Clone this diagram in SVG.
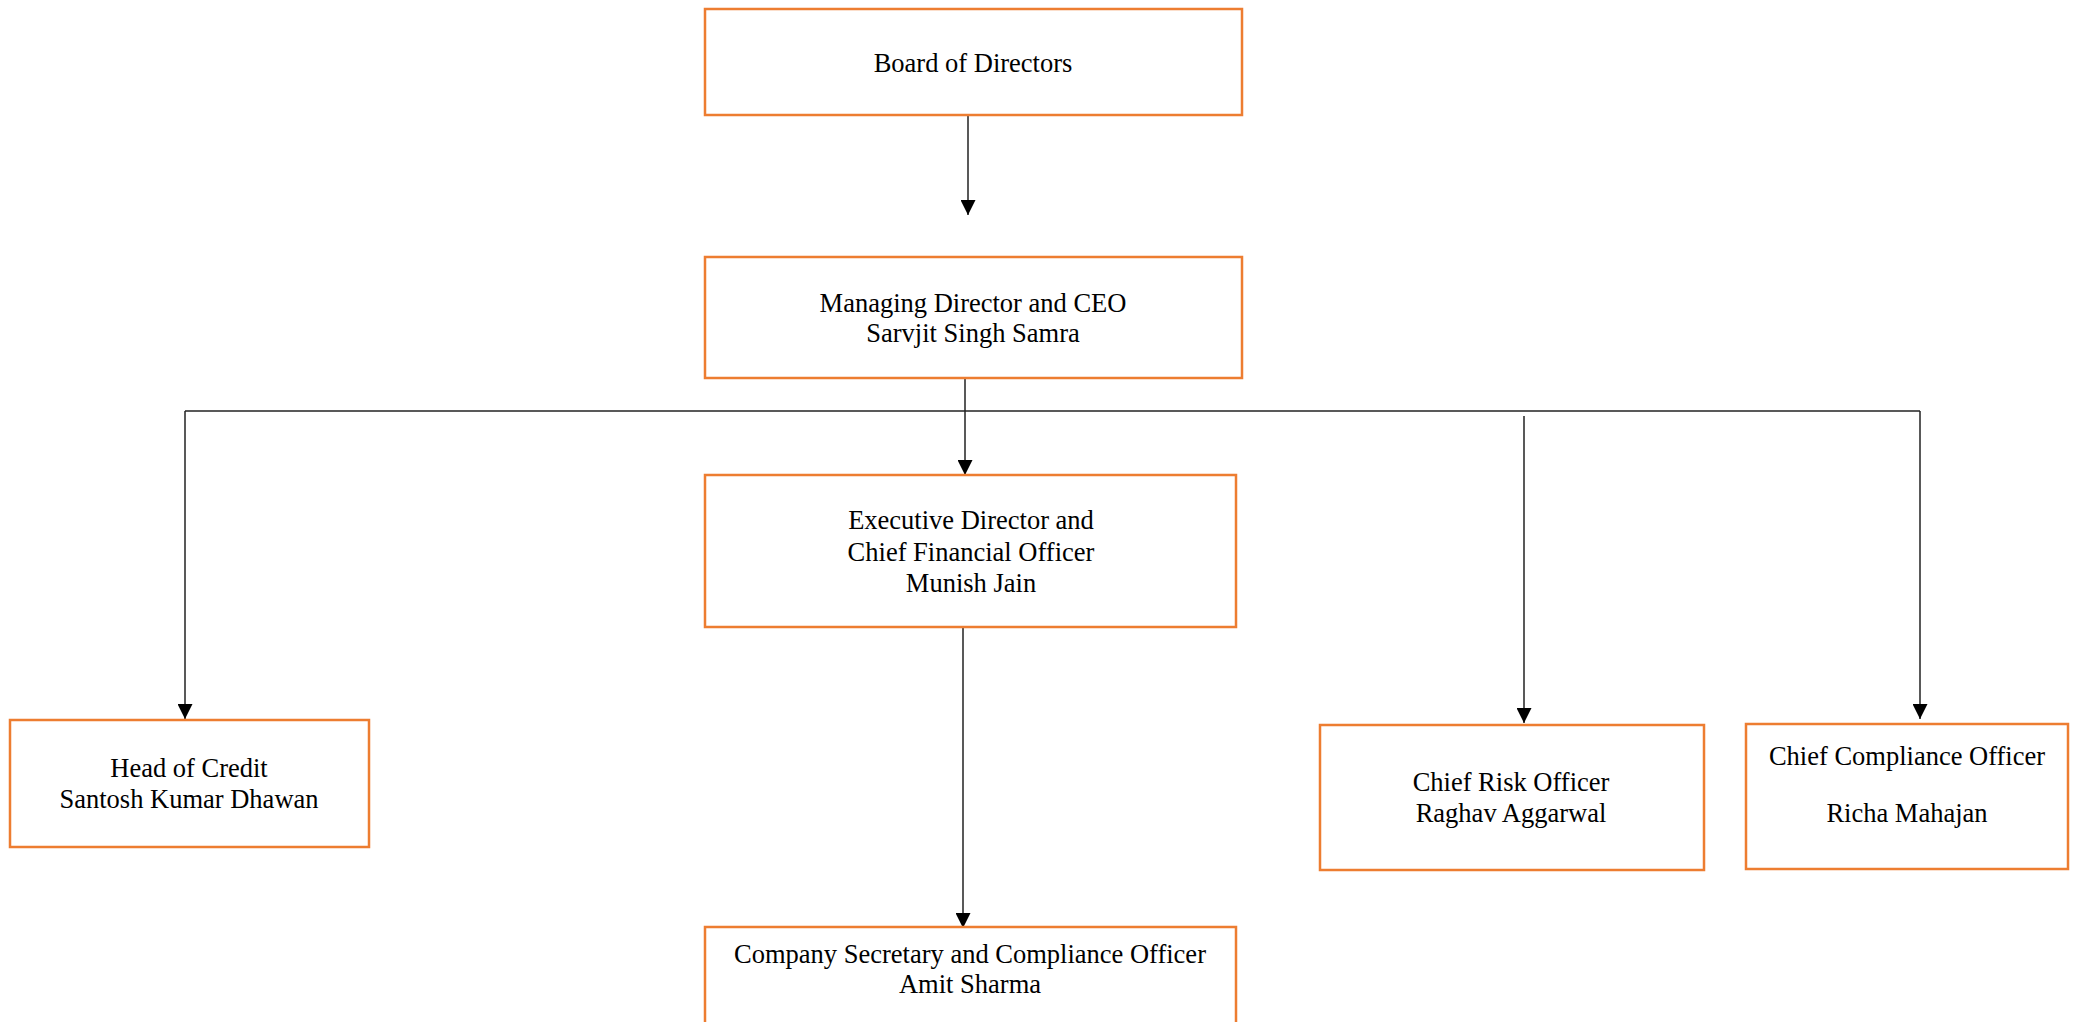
<svg xmlns="http://www.w3.org/2000/svg" width="2076" height="1022" viewBox="0 0 2076 1022">
<style>
.box{fill:#fff;stroke:#ED7D31;stroke-width:2.5}
.t{font-family:"Liberation Serif","Times New Roman",serif;font-size:26.5px;fill:#000;text-anchor:middle}
.c{fill:none;stroke:#222;stroke-width:1.5}
</style>
<defs>
<marker id="ah" markerUnits="userSpaceOnUse" markerWidth="15" markerHeight="15" refX="15" refY="7.5" orient="auto" viewBox="0 0 15 15">
<path d="M0,0 L15,7.5 L0,15 z" fill="#000"/>
</marker>
</defs>
<rect width="2076" height="1022" fill="#fff"/>
<g id="connectors">
<line class="c" x1="968" y1="116" x2="968" y2="215" marker-end="url(#ah)"/>
<line class="c" x1="965" y1="378" x2="965" y2="475" marker-end="url(#ah)"/>
<line class="c" x1="185" y1="411" x2="1920" y2="411"/>
<line class="c" x1="185" y1="411" x2="185" y2="719" marker-end="url(#ah)"/>
<line class="c" x1="1920" y1="411" x2="1920" y2="719" marker-end="url(#ah)"/>
<line class="c" x1="1524" y1="416" x2="1524" y2="723" marker-end="url(#ah)"/>
<line class="c" x1="963" y1="621" x2="963" y2="928" marker-end="url(#ah)"/>
</g>
<g id="board">
<rect class="box" x="705" y="9" width="537" height="106"/>
<text class="t" x="973" y="72">Board of Directors</text>
</g>
<g id="md">
<rect class="box" x="705" y="257" width="537" height="121"/>
<text class="t" x="973" y="312">Managing Director and CEO</text>
<text class="t" x="973" y="342">Sarvjit Singh Samra</text>
</g>
<g id="ed">
<rect class="box" x="705" y="475" width="531" height="152"/>
<text class="t" x="971" y="529">Executive Director and</text>
<text class="t" x="971" y="561">Chief Financial Officer</text>
<text class="t" x="971" y="592">Munish Jain</text>
</g>
<g id="cs">
<rect class="box" x="705" y="927" width="531" height="110"/>
<text class="t" x="970" y="963">Company Secretary and Compliance Officer</text>
<text class="t" x="970" y="993">Amit Sharma</text>
</g>
<g id="credit">
<rect class="box" x="10" y="720" width="359" height="127"/>
<text class="t" x="189" y="777">Head of Credit</text>
<text class="t" x="189" y="808">Santosh Kumar Dhawan</text>
</g>
<g id="risk">
<rect class="box" x="1320" y="725" width="384" height="145"/>
<text class="t" x="1511" y="791">Chief Risk Officer</text>
<text class="t" x="1511" y="822">Raghav Aggarwal</text>
</g>
<g id="compliance">
<rect class="box" x="1746" y="724" width="322" height="145"/>
<text class="t" x="1907" y="765">Chief Compliance Officer</text>
<text class="t" x="1907" y="822">Richa Mahajan</text>
</g>
</svg>
